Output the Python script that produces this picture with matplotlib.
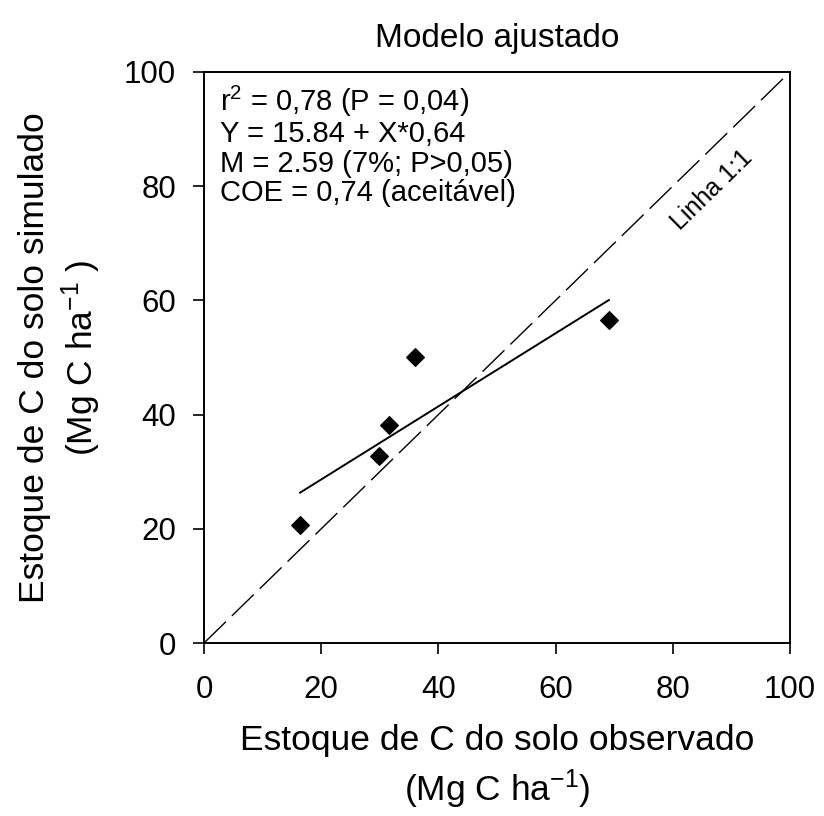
import numpy as np
import matplotlib
matplotlib.use("Agg")
import matplotlib.pyplot as plt

plt.rcParams['font.family'] = ['Liberation Sans', 'DejaVu Sans']
plt.rcParams['mathtext.fontset'] = 'custom'
plt.rcParams['mathtext.rm'] = 'Liberation Sans'
plt.rcParams['mathtext.it'] = 'Liberation Sans'

# observed vs simulated soil C stock (Mg C ha-1)
observado = [16.4, 29.9, 31.6, 36.0, 69.1]
simulado = [20.7, 32.7, 38.2, 50.1, 56.6]

# fitted model
intercepto = 15.84
inclinacao = 0.64

ticks = [0, 20, 40, 60, 80, 100]

stats_lines = [
    "r$^2$ = 0,78 (P = 0,04)",
    "Y = 15.84 + X*0,64",
    "M = 2.59 (7%; P>0,05)",
    "COE = 0,74 (aceitável)",
]

fig = plt.figure(figsize=(8.24, 8.16), dpi=100)
ax = fig.add_axes([0.2476, 0.212, 0.7111, 0.6998])

# 1:1 line
ax.plot([0, 100], [0, 100], color='black', lw=1.0, dashes=(22, 6))

# regression line
xr = np.array([min(observado), max(observado)])
ax.plot(xr, intercepto + inclinacao * xr, color='black', lw=1.4)

ax.scatter(observado, simulado, marker='D', s=80, color='black', zorder=3)

ax.set_xlim(0, 100)
ax.set_ylim(0, 100)
ax.set_xticks(ticks)
ax.set_yticks(ticks)
ax.tick_params(direction='out', length=8, width=1.2, labelsize=22.5, pad=12,
               top=False, right=False)
ax.tick_params(axis='x', pad=15)
for s in ax.spines.values():
    s.set_linewidth(1.4)

ax.set_xlabel("Estoque de C do solo observado\n(Mg C ha$^{-1}$)", fontsize=25.5, labelpad=14,
              linespacing=1.3)
ax.set_ylabel("Estoque de C do solo simulado\n(Mg C ha$^{-1}$ )", fontsize=25.5, labelpad=15,
              linespacing=1.25)
ax.set_title("Modelo ajustado", fontsize=24, pad=18)

ax.text(2.7, 98, "\n".join(stats_lines), fontsize=21, va='top', ha='left',
        linespacing=1.07)

ax.text(86.7, 79.3, "Linha 1:1", fontsize=18, rotation=44.3, ha='center', va='center',
        rotation_mode='anchor')

fig.savefig("out.png", dpi=100)
